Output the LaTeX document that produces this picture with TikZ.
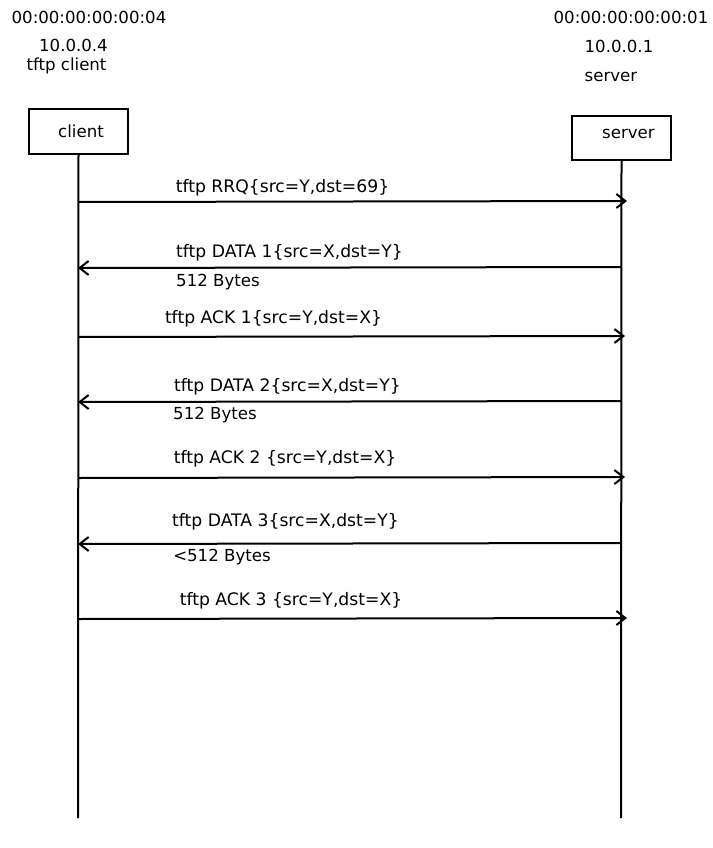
\documentclass[tikz,border=0pt]{standalone}
\usepackage{fontspec}
\setmainfont{DejaVu Sans}
\usetikzlibrary{arrows.meta, positioning}
\tikzset{
    actor/.style={rectangle, draw, line width=2pt, minimum width=99pt, minimum height=45pt,
                  inner sep=0pt, font=\fontsize{16.6}{19}\selectfont},
    lbl/.style={font=\fontsize{16.6}{19}\selectfont, inner sep=0pt},
    msglbl/.style={font=\fontsize{17.2}{19}\selectfont, inner sep=0pt},
    life/.style={line width=2pt},
    msg/.style={line width=2pt, -{Straight Barb[length=9pt, width=14pt, line width=2pt]}},
}
\begin{document}
\begin{tikzpicture}[x=1pt, y=1pt]
  \useasboundingbox (0,0) rectangle (712,-848);

  % hosts
  \node[lbl] (cmac) at (89,-17) {00:00:00:00:00:04};
  \node[lbl] (cip)  at (73.5,-45) {10.0.0.4};
  \node[lbl] (cname) at (66.5,-66) {tftp client};
  \node[lbl] (smac) at (631,-17) {00:00:00:00:00:01};
  \node[lbl] (sip)  at (619,-46) {10.0.0.1};
  \node[lbl] (sname) at (611,-77) {server};

  \node[actor] (client) at (78.5,-131.5) {\hspace{5pt}client};
  \node[actor, minimum height=44pt, label={[lbl, xshift=7pt, yshift=4pt]center:server}] (server) at (621.5,-138) {};

  \coordinate (clientend) at (78,-818);
  \coordinate (serverend) at (621,-818);
  \draw[life] (client.south) -- (clientend);
  \draw[life] (server.south) -- (serverend);

  % messages
  \coordinate (c1) at (78,-202);  \coordinate (s1) at (627,-201);
  \coordinate (c2) at (78,-268);  \coordinate (s2) at (621,-267);
  \coordinate (c3) at (78,-337);  \coordinate (s3) at (625,-336);
  \coordinate (c4) at (78,-402);  \coordinate (s4) at (621,-401);
  \coordinate (c5) at (78,-478);  \coordinate (s5) at (625,-477);
  \coordinate (c6) at (78,-544);  \coordinate (s6) at (621,-543);
  \coordinate (c7) at (78,-619);  \coordinate (s7) at (627,-618);

  \draw[msg] (c1) -- (s1);
  \node[msglbl] (rrq) at (282.5,-188) {tftp RRQ\{src=Y,dst=69\}};

  \draw[msg] (s2) -- (c2);
  \node[msglbl] (data1) at (289.5,-253) {tftp DATA 1\{src=X,dst=Y\}};
  \node[lbl] (size1) at (218,-282) {512 Bytes};

  \draw[msg] (c3) -- (s3);
  \node[msglbl] (ack1) at (273.5,-319) {tftp ACK 1\{src=Y,dst=X\}};

  \draw[msg] (s4) -- (c4);
  \node[msglbl] (data2) at (287.5,-387) {tftp DATA 2\{src=X,dst=Y\}};
  \node[lbl] (size2) at (215,-415) {512 Bytes};

  \draw[msg] (c5) -- (s5);
  \node[msglbl] (ack2) at (285,-459) {tftp ACK 2 \{src=Y,dst=X\}};

  \draw[msg] (s6) -- (c6);
  \node[msglbl] (data3) at (285.5,-522) {tftp DATA 3\{src=X,dst=Y\}};
  \node[lbl] (size3) at (222,-557) {<512 Bytes};

  \draw[msg] (c7) -- (s7);
  \node[msglbl] (ack3) at (291,-601) {tftp ACK 3 \{src=Y,dst=X\}};

\end{tikzpicture}
\end{document}
